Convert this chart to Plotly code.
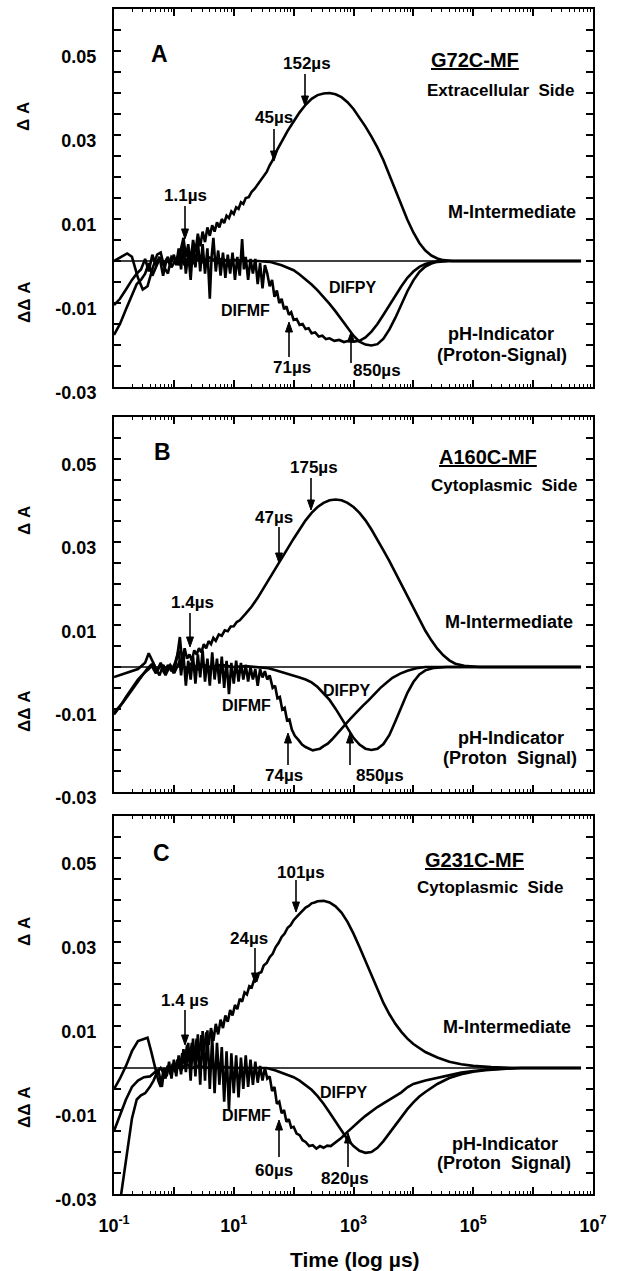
import plotly.graph_objects as go

# ---------------- data (x as log10 of time in microseconds) ----------------
# Panel A : G72C-MF
a_m_logt = [-1.00,-0.78,-0.70,-0.60,-0.52,-0.44,-0.36,-0.28,-0.22,-0.16,-0.10,-0.04,0.02,0.08,0.12,0.16,0.20,0.24,0.28,0.32,0.36,0.40,0.44,0.48,0.52,0.56,0.60,0.64,0.68,0.72,0.76,0.80,0.84,0.88,0.92,0.96,1.00,1.04,1.08,1.12,1.16,1.20,1.25,1.30,1.35,1.40,1.45,1.50,1.55,1.60,1.65,1.70,1.80,1.90,2.00,2.10,2.20,2.30,2.40,2.50,2.60,2.70,2.80,2.90,3.00,3.10,3.20,3.30,3.40,3.50,3.60,3.70,3.80,3.90,4.00,4.10,4.20,4.30,4.40,4.50,4.65,6.80]
a_m_val = [0.0000,0.0018,0.0010,-0.0040,-0.0068,-0.0060,-0.0020,0.0015,0.0020,-0.0015,-0.0030,0.0010,0.0005,-0.0010,0.0030,0.0055,0.0010,0.0040,-0.0005,0.0050,0.0020,0.0065,0.0035,0.0070,0.0045,0.0080,0.0060,0.0085,0.0070,0.0092,0.0080,0.0100,0.0090,0.0108,0.0102,0.0118,0.0112,0.0128,0.0124,0.0140,0.0136,0.0150,0.0152,0.0165,0.0172,0.0182,0.0192,0.0200,0.0212,0.0228,0.0240,0.0258,0.0285,0.0310,0.0332,0.0354,0.0372,0.0386,0.0395,0.0399,0.0400,0.0397,0.0390,0.0378,0.0362,0.0342,0.0320,0.0296,0.0270,0.0240,0.0205,0.0168,0.0132,0.0098,0.0068,0.0043,0.0025,0.0013,0.0006,0.0002,0.0000,0.0000]

a_mf_logt = [-1.00,-0.90,-0.80,-0.70,-0.62,-0.55,-0.48,-0.42,-0.36,-0.30,-0.24,-0.18,-0.12,-0.06,0.00,0.04,0.08,0.12,0.16,0.20,0.24,0.28,0.32,0.36,0.40,0.44,0.48,0.52,0.56,0.60,0.63,0.66,0.70,0.74,0.78,0.82,0.86,0.90,0.94,0.98,1.02,1.06,1.10,1.14,1.17,1.20,1.24,1.28,1.32,1.36,1.40,1.44,1.48,1.52,1.56,1.60,1.64,1.68,1.72,1.76,1.80,1.84,1.88,1.92,1.96,2.00,2.05,2.10,2.15,2.20,2.25,2.30,2.36,2.42,2.48,2.54,2.60,2.68,2.76,2.84,2.92,3.00,3.10,3.20,3.30,3.40,3.50,3.60,3.70,3.80,3.90,4.00,4.10,4.20,4.30,4.45,6.80]
a_mf_val = [-0.0105,-0.0090,-0.0068,-0.0045,-0.0030,-0.0020,0.0005,-0.0025,0.0015,-0.0010,0.0010,-0.0035,0.0005,-0.0010,0.0015,-0.0010,0.0030,-0.0020,0.0045,-0.0030,0.0020,-0.0045,0.0035,-0.0015,0.0050,-0.0025,0.0040,-0.0030,0.0030,-0.0090,0.0010,0.0055,-0.0025,0.0025,-0.0035,0.0020,-0.0040,0.0015,-0.0030,0.0020,-0.0045,0.0010,-0.0035,0.0052,-0.0020,0.0010,-0.0045,0.0005,-0.0030,0.0005,-0.0055,-0.0005,-0.0065,-0.0010,-0.0030,-0.0060,-0.0045,-0.0085,-0.0070,-0.0100,-0.0090,-0.0115,-0.0108,-0.0128,-0.0122,-0.0140,-0.0138,-0.0152,-0.0150,-0.0162,-0.0160,-0.0172,-0.0170,-0.0180,-0.0178,-0.0186,-0.0184,-0.0190,-0.0188,-0.0193,-0.0190,-0.0192,-0.0190,-0.0182,-0.0168,-0.0150,-0.0128,-0.0105,-0.0082,-0.0060,-0.0040,-0.0025,-0.0014,-0.0007,-0.0003,0.0000,0.0000]

a_py_logt = [-1.00,-0.90,-0.80,-0.70,-0.62,-0.55,-0.48,-0.42,-0.36,-0.30,-0.24,-0.18,-0.10,-0.04,0.02,0.10,0.18,0.26,0.34,0.42,0.50,0.60,0.70,0.80,0.90,1.00,1.20,1.40,1.60,1.70,1.80,1.90,2.00,2.10,2.20,2.30,2.40,2.50,2.60,2.70,2.80,2.90,3.00,3.10,3.20,3.30,3.40,3.50,3.60,3.70,3.80,3.90,4.00,4.10,4.20,4.30,4.40,4.60,6.80]
a_py_val = [-0.0176,-0.0150,-0.0115,-0.0080,-0.0055,-0.0045,-0.0030,-0.0005,-0.0035,-0.0015,0.0005,-0.0010,0.0010,-0.0015,0.0000,0.0020,-0.0010,0.0015,-0.0005,0.0010,-0.0005,0.0008,0.0000,0.0005,0.0000,0.0003,0.0000,0.0000,-0.0002,-0.0006,-0.0010,-0.0016,-0.0022,-0.0032,-0.0043,-0.0056,-0.0070,-0.0085,-0.0102,-0.0120,-0.0140,-0.0160,-0.0178,-0.0192,-0.0199,-0.0201,-0.0198,-0.0185,-0.0163,-0.0135,-0.0103,-0.0072,-0.0046,-0.0026,-0.0013,-0.0006,-0.0002,0.0000,0.0000]

# Panel B : A160C-MF
b_m_logt = [-1.00,-0.80,-0.60,-0.48,-0.42,-0.36,-0.30,-0.24,-0.18,-0.12,-0.06,0.00,0.06,0.10,0.14,0.18,0.22,0.26,0.30,0.34,0.38,0.42,0.46,0.50,0.54,0.58,0.62,0.66,0.70,0.75,0.80,0.85,0.90,0.95,1.00,1.05,1.10,1.20,1.30,1.40,1.50,1.60,1.70,1.80,1.90,2.00,2.10,2.20,2.30,2.40,2.50,2.60,2.70,2.80,2.90,3.00,3.10,3.20,3.30,3.40,3.50,3.60,3.70,3.80,3.90,4.00,4.10,4.20,4.30,4.40,4.50,4.60,4.70,4.85,5.10,6.80]
b_m_val = [-0.0024,-0.0015,-0.0005,0.0010,0.0033,0.0015,-0.0005,-0.0020,0.0005,-0.0010,0.0000,-0.0015,0.0030,0.0072,0.0010,0.0045,0.0020,0.0030,0.0015,0.0040,0.0030,0.0045,0.0035,0.0055,0.0045,0.0062,0.0055,0.0070,0.0063,0.0078,0.0075,0.0088,0.0086,0.0097,0.0098,0.0108,0.0112,0.0128,0.0145,0.0166,0.0190,0.0212,0.0235,0.0260,0.0285,0.0308,0.0330,0.0352,0.0370,0.0384,0.0394,0.0400,0.0402,0.0400,0.0394,0.0384,0.0370,0.0352,0.0330,0.0306,0.0280,0.0254,0.0226,0.0197,0.0168,0.0140,0.0112,0.0087,0.0064,0.0044,0.0028,0.0016,0.0008,0.0003,0.0000,0.0000]

b_mf_logt = [-1.00,-0.90,-0.80,-0.70,-0.60,-0.50,-0.42,-0.34,-0.28,-0.22,-0.16,-0.10,-0.04,0.02,0.08,0.12,0.16,0.20,0.24,0.28,0.32,0.36,0.40,0.44,0.48,0.52,0.56,0.60,0.64,0.68,0.72,0.76,0.80,0.84,0.88,0.92,0.96,1.00,1.04,1.08,1.12,1.16,1.20,1.24,1.28,1.32,1.36,1.40,1.44,1.48,1.52,1.56,1.60,1.65,1.69,1.73,1.77,1.81,1.85,1.89,1.93,1.97,2.02,2.08,2.14,2.20,2.26,2.32,2.38,2.44,2.50,2.57,2.64,2.71,2.78,2.85,2.95,3.05,3.15,3.25,3.35,3.45,3.55,3.65,3.78,3.90,4.05,4.20,6.80]
b_mf_val = [-0.0114,-0.0095,-0.0072,-0.0050,-0.0030,-0.0015,-0.0005,0.0008,-0.0010,0.0005,-0.0015,0.0005,-0.0010,0.0010,0.0040,-0.0020,0.0030,-0.0045,0.0015,-0.0030,0.0025,-0.0040,0.0030,-0.0025,0.0040,-0.0035,0.0020,-0.0045,0.0035,-0.0030,0.0020,-0.0040,0.0025,-0.0050,0.0015,-0.0065,0.0010,-0.0040,0.0015,-0.0035,0.0010,-0.0030,0.0005,-0.0035,0.0000,-0.0030,-0.0005,-0.0045,-0.0005,-0.0025,-0.0010,-0.0030,-0.0020,-0.0050,-0.0045,-0.0075,-0.0072,-0.0102,-0.0098,-0.0128,-0.0126,-0.0150,-0.0165,-0.0175,-0.0186,-0.0192,-0.0196,-0.0200,-0.0198,-0.0196,-0.0190,-0.0184,-0.0174,-0.0162,-0.0150,-0.0140,-0.0124,-0.0108,-0.0094,-0.0080,-0.0064,-0.0050,-0.0038,-0.0026,-0.0016,-0.0009,-0.0003,0.0000,0.0000]

b_py_logt = [-1.00,-0.85,-0.70,-0.55,-0.45,-0.38,-0.30,-0.22,-0.14,-0.06,0.02,0.10,0.20,0.30,0.40,0.50,0.60,0.80,1.00,1.20,1.40,1.58,1.70,1.80,1.90,2.00,2.10,2.20,2.30,2.40,2.50,2.60,2.70,2.80,2.90,3.00,3.10,3.20,3.30,3.40,3.50,3.60,3.70,3.80,3.90,4.00,4.10,4.20,4.35,4.55,6.80]
b_py_val = [-0.0110,-0.0085,-0.0055,-0.0025,-0.0005,0.0005,-0.0015,0.0010,-0.0020,0.0005,-0.0010,0.0015,-0.0005,0.0010,-0.0005,0.0005,0.0000,0.0005,0.0000,0.0002,0.0000,-0.0003,-0.0008,-0.0012,-0.0016,-0.0020,-0.0025,-0.0030,-0.0037,-0.0048,-0.0063,-0.0079,-0.0100,-0.0124,-0.0148,-0.0170,-0.0186,-0.0196,-0.0199,-0.0196,-0.0185,-0.0163,-0.0130,-0.0095,-0.0062,-0.0036,-0.0018,-0.0008,-0.0002,0.0000,0.0000]

# Panel C : G231C-MF
c_m_logt = [-1.00,-0.90,-0.80,-0.70,-0.60,-0.50,-0.44,-0.38,-0.32,-0.26,-0.22,-0.18,-0.14,-0.10,-0.06,-0.02,0.02,0.06,0.10,0.14,0.18,0.22,0.26,0.30,0.34,0.38,0.42,0.46,0.50,0.54,0.58,0.62,0.66,0.70,0.74,0.78,0.82,0.86,0.90,0.94,0.98,1.02,1.06,1.10,1.14,1.18,1.22,1.26,1.30,1.34,1.38,1.42,1.46,1.50,1.55,1.60,1.65,1.70,1.75,1.80,1.85,1.90,1.95,2.00,2.05,2.10,2.15,2.20,2.25,2.30,2.35,2.40,2.50,2.60,2.70,2.80,2.90,3.00,3.10,3.20,3.30,3.40,3.50,3.60,3.70,3.80,3.90,4.00,4.20,4.40,4.60,4.80,5.00,5.30,5.70,6.80]
c_m_val = [-0.0050,-0.0025,0.0005,0.0040,0.0064,0.0070,0.0072,0.0040,0.0005,-0.0030,-0.0045,-0.0010,-0.0025,0.0005,-0.0015,0.0010,-0.0010,0.0020,0.0000,0.0035,0.0010,0.0055,0.0015,0.0060,0.0020,0.0070,0.0030,0.0078,0.0040,0.0085,0.0055,0.0095,0.0065,0.0105,0.0080,0.0115,0.0095,0.0125,0.0110,0.0138,0.0125,0.0150,0.0140,0.0165,0.0158,0.0180,0.0175,0.0195,0.0192,0.0210,0.0208,0.0226,0.0228,0.0244,0.0250,0.0264,0.0272,0.0288,0.0298,0.0312,0.0320,0.0334,0.0340,0.0352,0.0360,0.0368,0.0374,0.0382,0.0386,0.0392,0.0394,0.0397,0.0398,0.0394,0.0385,0.0370,0.0348,0.0320,0.0288,0.0254,0.0220,0.0186,0.0155,0.0128,0.0105,0.0086,0.0070,0.0057,0.0038,0.0025,0.0015,0.0009,0.0005,0.0002,0.0000,0.0000]

c_mf_logt = [-1.00,-0.90,-0.80,-0.70,-0.60,-0.50,-0.40,-0.32,-0.26,-0.20,-0.16,-0.12,-0.08,-0.04,0.00,0.04,0.08,0.12,0.16,0.20,0.24,0.28,0.32,0.36,0.40,0.44,0.48,0.52,0.56,0.60,0.64,0.68,0.72,0.76,0.80,0.84,0.88,0.92,0.96,1.00,1.04,1.08,1.12,1.16,1.20,1.24,1.28,1.32,1.36,1.40,1.44,1.48,1.52,1.56,1.60,1.64,1.68,1.72,1.76,1.80,1.84,1.88,1.92,1.96,2.00,2.05,2.10,2.15,2.20,2.26,2.32,2.38,2.44,2.50,2.56,2.62,2.68,2.74,2.80,2.90,3.00,3.10,3.20,3.30,3.40,3.50,3.60,3.70,3.80,3.90,4.00,4.20,4.40,4.60,4.80,5.00,5.30,5.70,6.80]
c_mf_val = [-0.0150,-0.0110,-0.0075,-0.0045,-0.0030,-0.0022,-0.0020,-0.0010,-0.0005,-0.0045,0.0000,-0.0020,0.0015,-0.0025,0.0020,-0.0020,0.0030,-0.0015,0.0045,-0.0010,0.0060,-0.0030,0.0070,-0.0020,0.0080,-0.0040,0.0088,-0.0030,0.0090,-0.0050,0.0075,-0.0060,0.0060,-0.0040,0.0050,-0.0080,0.0040,-0.0100,0.0035,-0.0060,0.0030,-0.0070,0.0025,-0.0050,0.0030,-0.0045,0.0020,-0.0040,0.0015,-0.0035,0.0005,-0.0030,0.0000,-0.0025,-0.0020,-0.0055,-0.0045,-0.0085,-0.0080,-0.0108,-0.0100,-0.0128,-0.0122,-0.0142,-0.0140,-0.0156,-0.0160,-0.0172,-0.0176,-0.0186,-0.0184,-0.0192,-0.0186,-0.0190,-0.0185,-0.0186,-0.0180,-0.0174,-0.0166,-0.0152,-0.0138,-0.0126,-0.0114,-0.0103,-0.0093,-0.0084,-0.0076,-0.0068,-0.0058,-0.0046,-0.0038,-0.0030,-0.0024,-0.0017,-0.0011,-0.0007,-0.0003,0.0000,0.0000]

c_py_logt = [-1.00,-0.90,-0.84,-0.78,-0.70,-0.62,-0.55,-0.48,-0.40,-0.34,-0.28,-0.22,-0.16,-0.10,-0.04,0.04,0.12,0.20,0.30,0.40,0.60,0.80,1.00,1.30,1.55,1.70,1.80,1.90,2.00,2.10,2.20,2.30,2.40,2.50,2.60,2.70,2.80,2.90,3.00,3.10,3.20,3.30,3.40,3.50,3.60,3.70,3.80,3.90,4.00,4.10,4.20,4.40,4.60,4.80,5.00,5.20,5.50,5.80,6.80]
c_py_val = [-0.0450,-0.0320,-0.0260,-0.0200,-0.0120,-0.0075,-0.0065,-0.0060,-0.0045,-0.0030,-0.0010,0.0000,-0.0015,0.0005,-0.0010,0.0010,-0.0005,0.0010,0.0000,0.0005,0.0000,0.0003,0.0000,0.0000,0.0000,-0.0006,-0.0011,-0.0016,-0.0022,-0.0030,-0.0040,-0.0052,-0.0067,-0.0085,-0.0106,-0.0128,-0.0150,-0.0170,-0.0186,-0.0197,-0.0202,-0.0200,-0.0190,-0.0174,-0.0155,-0.0135,-0.0115,-0.0098,-0.0082,-0.0068,-0.0057,-0.0038,-0.0024,-0.0015,-0.0009,-0.0005,-0.0002,0.0000,0.0000]

baseline_logt = [-1.0, 6.8]
baseline_val = [0.0, 0.0]

# axis ticks
x_labelled = [-1, 1, 3, 5, 7]       # labelled decades
x_unlabelled = [0, 2, 4, 6]         # decade ticks without label
y_labelled = [-0.03, -0.01, 0.01, 0.03, 0.05]
y_unlabelled = [-0.025, -0.02, -0.015, -0.005, 0.0, 0.005, 0.015, 0.02, 0.025,
                0.035, 0.04, 0.045, 0.055, 0.06]

# ---------------- layout helpers ----------------
W, H = 622, 1271
FONT = "Liberation Sans, Arial, Helvetica, sans-serif"
X_LEFT, X_RIGHT = 114, 593
panels_px = [(9, 387), (417, 792), (816, 1194)]  # (top, bottom) pixel rows


def pxx(x):
    return x / W


def pxy(y):
    return 1 - y / H


fig = go.Figure()

panel_data = [
    [(a_m_logt, a_m_val), (a_mf_logt, a_mf_val), (a_py_logt, a_py_val)],
    [(b_m_logt, b_m_val), (b_mf_logt, b_mf_val), (b_py_logt, b_py_val)],
    [(c_m_logt, c_m_val), (c_mf_logt, c_mf_val), (c_py_logt, c_py_val)],
]

# overlay x-axes (x4, x5, x6) carry the unlabelled decade ticks
for i, curves in enumerate(panel_data):
    xa = "x" if i == 0 else f"x{i+1}"
    ya = "y" if i == 0 else f"y{i+1}"
    fig.add_trace(go.Scatter(x=[10 ** v for v in baseline_logt], y=baseline_val, mode="lines",
                             line=dict(color="black", width=1.4), xaxis=f"x{i+4}", yaxis=ya,
                             showlegend=False))
    for lt, vals in curves:
        fig.add_trace(go.Scatter(x=[10 ** v for v in lt], y=vals, mode="lines",
                                 line=dict(color="black", width=2.6), xaxis=xa, yaxis=ya,
                                 showlegend=False))

minor_x = [m * 10 ** k for k in range(-1, 7) for m in range(2, 10)]
tfont_x = dict(family=FONT, size=18, color="black", weight="bold")
tfont_y = dict(family=FONT, size=18, color="black", weight="bold")

for i, (top, bot) in enumerate(panels_px):
    xkey = "xaxis" if i == 0 else f"xaxis{i+1}"
    ykey = "yaxis" if i == 0 else f"yaxis{i+1}"
    xname = "x" if i == 0 else f"x{i+1}"
    yname = "y" if i == 0 else f"y{i+1}"
    last = i == 2
    fig.layout[xkey] = dict(
        type="log", range=[-1, 7], domain=[pxx(X_LEFT), pxx(X_RIGHT)], anchor=yname,
        tickmode="array", tickvals=[10 ** k for k in x_labelled],
        ticktext=[f"10<sup>{k}</sup>" for k in x_labelled],
        showticklabels=last, ticks="inside", ticklen=7, tickwidth=1.5, tickcolor="black",
        minor=dict(tickvals=minor_x, ticks="inside", ticklen=3, tickwidth=1.2, tickcolor="black"),
        showline=True, linewidth=2, linecolor="black", mirror="ticks", showgrid=False,
        zeroline=False, tickfont=tfont_x, ticklabelstandoff=14, automargin=False,
    )
    fig.layout[f"xaxis{i+4}"] = dict(
        type="log", range=[-1, 7], overlaying=xname, anchor=yname,
        tickmode="array", tickvals=[10 ** k for k in x_unlabelled],
        showticklabels=False, ticks="inside", ticklen=7, tickwidth=1.5, tickcolor="black",
        showline=False, mirror="ticks", showgrid=False, zeroline=False, automargin=False,
    )
    fig.layout[ykey] = dict(
        range=[-0.03, 0.06], domain=[pxy(bot), pxy(top)], anchor=xname,
        tickmode="array", tickvals=y_labelled,
        ticktext=[f"{v:.2f}" for v in y_labelled],
        ticks="inside", ticklen=7, tickwidth=1.5, tickcolor="black",
        minor=dict(tickvals=y_unlabelled, ticks="inside", ticklen=7, tickwidth=1.5,
                   tickcolor="black"),
        showline=True, linewidth=2, linecolor="black", mirror="ticks", showgrid=False,
        zeroline=False, tickfont=tfont_y,
        ticklabelstandoff=12, ticklabelshift=6, automargin=False,
    )

ann = []
shapes = []


def text(x, y, s, size=15, **kw):
    ann.append(dict(x=pxx(x), y=pxy(y), xref="paper", yref="paper", text=s, showarrow=False,
                    font=dict(family=FONT, size=size, color="black", weight="bold"),
                    xanchor="center", yanchor="middle", **kw))


def arrow(x, tip, tail, head_len=10, half_w=3.5):
    d = 1 if tail < tip else -1  # +1: arrow points down the page
    base = tip - d * head_len
    shapes.append(dict(type="line", xref="paper", yref="paper",
                       x0=pxx(x), y0=pxy(tail), x1=pxx(x), y1=pxy(base),
                       line=dict(color="black", width=1.6)))
    path = (f"M {pxx(x)} {pxy(tip)} L {pxx(x - half_w)} {pxy(base)} "
            f"L {pxx(x + half_w)} {pxy(base)} Z")
    shapes.append(dict(type="path", xref="paper", yref="paper", path=path,
                       fillcolor="black", line=dict(color="black", width=1)))


# panel letters
text(159, 54, "A", size=23)
text(162, 452, "B", size=23)
text(161, 853, "C", size=23)

# panel titles / side notes
text(475, 60, "<u>G72C-MF</u>", size=20)
text(500, 91, "Extracellular  Side", size=17)
text(512, 212, "M-Intermediate", size=18)
text(501, 334, "pH-Indicator", size=18)
text(502, 355, "(Proton-Signal)", size=18)

text(488, 457, "<u>A160C-MF</u>", size=20)
text(504, 485, "Cytoplasmic  Side", size=17)
text(509, 622, "M-Intermediate", size=18)
text(511, 738, "pH-Indicator", size=18)
text(510, 758, "(Proton  Signal)", size=18)

text(474, 860, "<u>G231C-MF</u>", size=20)
text(490, 888, "Cytoplasmic  Side", size=17)
text(507, 1027, "M-Intermediate", size=18)
text(505, 1144, "pH-Indicator", size=18)
text(504, 1163, "(Proton  Signal)", size=18)

# curve labels
text(245, 311, "DIFMF", size=16)
text(352, 287, "DIFPY", size=16)
text(246, 705, "DIFMF", size=16)
text(346, 690, "DIFPY", size=16)
text(246, 1115, "DIFMF", size=16)
text(343, 1092, "DIFPY", size=16)

# time markers panel A
text(307, 64, "152µs", size=17); arrow(305, 106, 74)
text(274, 118, "45µs", size=17); arrow(274, 161, 129)
text(185, 196, "1.1µs", size=17); arrow(185, 239, 206)
text(292, 367, "71µs", size=17); arrow(289, 322, 357)
text(377, 370, "850µs", size=17); arrow(351, 332, 363)
# panel B
text(314, 467, "175µs", size=17); arrow(311, 510, 478)
text(274, 518, "47µs", size=17); arrow(279, 563, 527)
text(192, 602, "1.4µs", size=17); arrow(190, 647, 613)
text(284, 775, "74µs", size=17); arrow(288, 733, 765)
text(380, 775, "850µs", size=17); arrow(350, 733, 765)
# panel C
text(301, 872, "101µs", size=17); arrow(296, 912, 880)
text(249, 938, "24µs", size=17); arrow(255, 983, 948)
text(185, 1000, "1.4 µs", size=17); arrow(185, 1045, 1010)
text(274, 1170, "60µs", size=17); arrow(279, 1120, 1157)
text(345, 1178, "820µs", size=17); arrow(348, 1133, 1167)

# y titles
for yc in (117, 521, 932):
    text(24, yc, "Δ A", size=17, textangle=-90)
for yc in (303, 712, 1108):
    text(24, yc, "ΔΔ A", size=17, textangle=-90)

# x title
text(355, 1259, "Time (log µs)", size=21)

fig.update_layout(
    width=W, height=H, margin=dict(l=0, r=0, t=0, b=0),
    paper_bgcolor="white", plot_bgcolor="white",
    font=dict(family=FONT, color="black"),
    annotations=ann, shapes=shapes, showlegend=False,
)

fig.write_html("out.html")
